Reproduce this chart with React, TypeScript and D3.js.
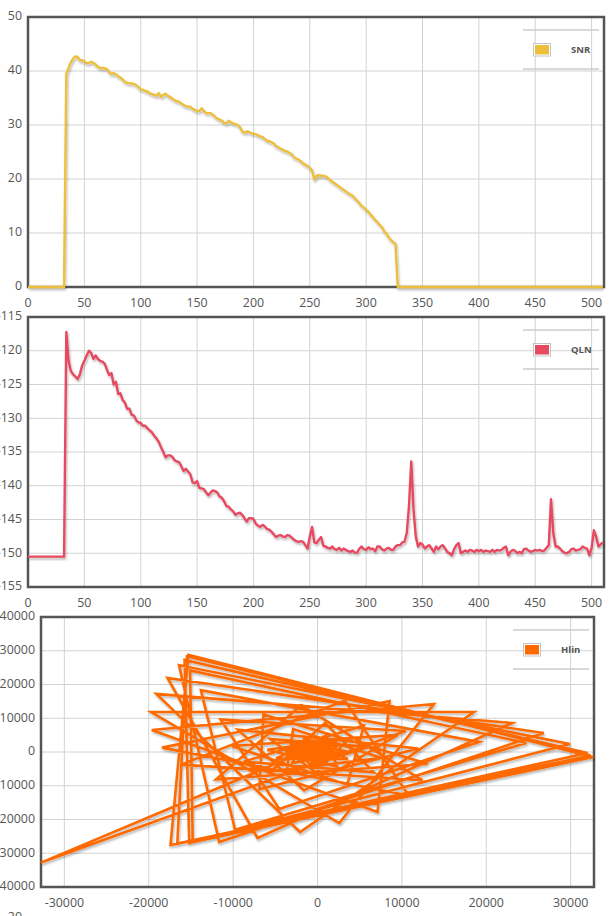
import React from "react";
import * as d3 from "d3";

// ---------- DATA ----------
// tone index = position * 2 (tones 0..510)
const TONE_STEP = 2;

const snrValues = [
  0, 0, 0, 0, 0, 0, 0, 0, 0, 0,
  0, 0, 0, 0, 0, 0, 0, 39.5, 40.6, 41.6,
  42.3, 42.7, 42.6, 42.0, 42.0, 41.8, 41.4, 41.5, 41.7, 41.5,
  41.2, 40.8, 40.5, 40.6, 40.5, 40.4, 39.8, 39.4, 39.6, 39.4,
  39.0, 38.8, 38.4, 38.0, 37.8, 37.7, 37.7, 37.6, 37.4, 37.0,
  36.6, 36.5, 36.3, 36.2, 35.9, 35.7, 35.6, 35.4, 35.9, 35.2,
  35.6, 35.8, 35.4, 35.2, 34.9, 34.6, 34.4, 34.3, 34.0, 33.7,
  33.5, 33.4, 33.4, 33.0, 32.8, 32.6, 32.6, 33.1, 32.6, 32.2,
  32.2, 32.2, 31.9, 31.5, 31.2, 31.0, 30.8, 30.4, 30.3, 30.8,
  30.5, 30.3, 30.2, 30.0, 29.6, 28.8, 28.6, 28.8, 28.7, 28.5,
  28.4, 28.3, 28.1, 27.9, 27.8, 27.4, 27.1, 27.0, 26.8, 26.6,
  26.1, 25.9, 25.6, 25.4, 25.2, 25.1, 24.8, 24.6, 24.0, 23.8,
  23.6, 23.3, 22.9, 22.7, 22.4, 22.1, 21.6, 19.9, 20.6, 20.7,
  20.6, 20.6, 20.5, 20.2, 19.8, 19.5, 19.2, 18.9, 18.6, 18.3,
  18.0, 17.7, 17.4, 17.1, 16.9, 16.4, 16.0, 15.5, 15.0, 14.7,
  14.3, 13.9, 13.4, 12.9, 12.4, 12.0, 11.5, 11.1, 10.3, 9.9,
  9.2, 8.7, 8.3, 8.0, 0, 0, 0, 0, 0, 0,
  0, 0, 0, 0, 0, 0, 0, 0, 0, 0,
  0, 0, 0, 0, 0, 0, 0, 0, 0, 0,
  0, 0, 0, 0, 0, 0, 0, 0, 0, 0,
  0, 0, 0, 0, 0, 0, 0, 0, 0, 0,
  0, 0, 0, 0, 0, 0, 0, 0, 0, 0,
  0, 0, 0, 0, 0, 0, 0, 0, 0, 0,
  0, 0, 0, 0, 0, 0, 0, 0, 0, 0,
  0, 0, 0, 0, 0, 0, 0, 0, 0, 0,
  0, 0, 0, 0, 0, 0,
];

const qlnValues = [
  -150.5, -150.5, -150.5, -150.5, -150.5, -150.5, -150.5, -150.5, -150.5, -150.5,
  -150.5, -150.5, -150.5, -150.5, -150.5, -150.5, -150.5, -117.2, -121.5, -123.0,
  -123.5, -123.8, -124.2, -123.5, -122.2, -121.5, -120.7, -120.0, -120.3, -121.2,
  -120.7, -121.2, -121.5, -121.6, -121.9, -122.8, -123.6, -123.3, -125.0, -124.6,
  -126.4, -126.3, -127.3, -127.7, -128.6, -128.6, -129.5, -129.6, -130.3, -130.6,
  -130.7, -131.1, -131.1, -131.5, -131.8, -132.1, -132.6, -133.0, -133.5, -134.3,
  -135.0, -135.8, -135.5, -135.5, -135.7, -136.2, -136.4, -136.5, -137.1, -137.8,
  -137.5, -137.9, -138.3, -139.5, -139.6, -139.3, -140.3, -140.4, -140.5, -141.0,
  -141.4, -141.0, -140.7, -140.8, -141.0, -141.6, -141.8, -142.3, -143.0, -143.1,
  -143.5, -143.8, -144.3, -144.1, -144.0, -144.3, -144.8, -145.3, -144.8, -144.8,
  -144.9, -145.6, -145.9, -146.1, -145.8, -146.0, -146.4, -146.5, -146.8, -147.2,
  -147.6, -147.4, -147.3, -147.5, -147.6, -147.3, -147.4, -147.7, -148.0, -148.2,
  -148.3, -148.2, -148.3, -148.8, -149.3, -147.5, -146.1, -148.4, -148.5, -148.0,
  -147.6, -148.9, -149.0, -149.2, -149.3, -149.0, -149.4, -149.5, -149.2, -149.6,
  -149.3, -149.5, -149.7, -149.8, -149.6, -149.9, -149.9, -149.3, -149.0, -149.4,
  -149.5, -149.1, -149.4, -149.3, -149.7, -149.0, -149.0, -149.4, -149.6, -149.3,
  -149.2, -149.5, -149.5, -149.0, -148.8, -148.8, -148.4, -148.3, -147.0, -143.0,
  -136.4, -143.5, -147.5, -149.0, -148.5, -148.7, -149.3, -149.0, -148.8, -149.3,
  -149.8, -149.0, -149.4, -149.0, -148.8, -149.3, -149.8, -150.0, -150.3, -149.4,
  -148.8, -148.5, -150.0, -149.8, -149.6, -149.8, -149.5, -149.6, -149.8, -149.5,
  -149.7, -149.5, -149.8, -149.6, -149.7, -149.8, -149.5, -149.8, -149.5, -149.6,
  -149.5, -149.2, -149.0, -150.3, -149.8, -149.5, -149.6, -150.0, -149.8, -150.0,
  -149.4, -149.3, -149.6, -149.8, -149.7, -149.5, -149.6, -149.5, -149.7, -149.6,
  -149.2, -148.8, -142.0, -147.0, -149.0, -149.0, -149.3, -149.7, -149.9, -150.0,
  -149.8, -149.4, -149.3, -149.6, -149.5, -149.4, -149.0, -149.2, -149.3, -150.3,
  -149.2, -146.6, -147.5, -149.0, -148.7, -148.4,
];

const hlinRe = [
  -32768, 10440, -11490, -4530, 19170, -13820, -9770, 24750, -15100, -14790,
  32670, -15300, -17420, 32380, -15460, -16620, 32000, -15750, -15200, 29910,
  -16410, -11650, 26810, -17780, -7110, 23060, -19100, -2070, 18540, -19710,
  2580, 13790, -19640, 7110, 8540, -18430, 10800, 3240, -16170, 12440,
  -1950, -12020, 13040, -6400, -6890, 11950, -9420, -1600, 9540, -10140,
  3520, 5510, -8750, 6690, 900, -5560, 7600, -2890,
  -3680, 6030, -5610, -180, 3740, -5960, 2330, 960, -4920, 3600,
  -1490, -3030, 3490, -3090, -940, 2440, -3750, 790, 950, -3520,
  1900, -650, -2550, 2180, -1920, -1230, 1710, -2550, -5, 760,
  -2500, 800, -280, -1930, 1030, -1090, -1140, 770, -1460, -440,
  230, -1390, -60,
  1690, -3810, 1120, 840, -3530, 1620, 10, -3070, 1890, -730,
  -2490, 1930, -1330, -1850, 1780, -1760, -1230, 1470, -2000, -660,
  1060, -2060, -215, 600, -1960, 90, 160, -1735, 245, -220,
  300, -32768,
];

const hlinIm = [
  -32768, 6220, 9640, -16900, 2970, 18340, -23020, 2690, 24170, -26680,
  -1480, 28790, -27550, -1020, 28360, -27210, -280, 27280, -26960, 2350,
  25760, -26660, 5650, 21950, -25470, 8580, 17200, -23710, 11860, 11850,
  -21040, 14220, 6530, -17780, 15100, 1290, -12870, 15260, -3730, -8390,
  13860, -8110, -3490, 11090, -11020, 1050, 6600, -11390, 5070, 1790,
  -9680, 7860, -2840, -6020, 8550, -5750, -1750, 6810,
  -6240, 1510, 3850, -6090, 3960, 670, -4360, 4780, -1880, -2090,
  4290, -3350, 210, 2780, -3570, 1910, 990, -3040, 2850, -700,
  -1810, 2900, -1910, -330, 2180, -2390, 940, 1040, -2140, 1680,
  -100, -1390, 1790, -930, -470, 1380, -1250, 290, 720, -1100,
  680, 110, -670,
  2600, 290, -2810, 2860, -540, -2120, 2880, -1200, -1380, 2670,
  -1670, -650, 2290, -1930, 0, 1800, -1990, 530, 1260, -1870,
  900, 730, -1620, 1100, 260, -1270, 1140, -110, -890, 1040,
  2070, -32768,
];

const toneTicks = [0, 50, 100, 150, 200, 250, 300, 350, 400, 450, 500];
const snrTicks = [0, 10, 20, 30, 40, 50];
const qlnTicks = [-115, -120, -125, -130, -135, -140, -145, -150, -155];
const hlinXTicks = [-30000, -20000, -10000, 0, 10000, 20000, 30000];
const hlinYTicks = [40000, 30000, 20000, 10000, 0, -10000, -20000, -30000, -40000];

const SNR_COLOR = "#ecbf3c";
const QLN_COLOR = "#e64a60";
const HLIN_COLOR = "#ff6a00";

const FONT = "'Open Sans', 'DejaVu Sans', sans-serif";
const GRID = "#d2d2d2";
const BORDER = "#555";
const TEXT = "#555";

type Frame = { x0: number; x1: number; y0: number; y1: number };

function Grid({ f, xs, ys }: { f: Frame; xs: number[]; ys: number[] }) {
  return (
    <g>
      {xs.map((x, i) => (
        <line key={"gx" + i} x1={x} x2={x} y1={f.y0} y2={f.y1} stroke={GRID} strokeWidth={1} />
      ))}
      {ys.map((y, i) => (
        <line key={"gy" + i} x1={f.x0} x2={f.x1} y1={y} y2={y} stroke={GRID} strokeWidth={1} />
      ))}
    </g>
  );
}

function Legend({ f, label, color }: { f: Frame; label: string; color: string }) {
  const R = f.x1;
  const T = f.y0;
  return (
    <g>
      <line x1={R - 81} x2={R - 5} y1={T + 13} y2={T + 13} stroke="#cccccc" strokeWidth={1.5} />
      <line x1={R - 81} x2={R - 5} y1={T + 52} y2={T + 52} stroke="#cccccc" strokeWidth={1.5} />
      <rect x={R - 70.5} y={T + 26.5} width={17} height={12.5} fill="#fff" stroke="#c4c4c4" strokeWidth={1} />
      <rect x={R - 69} y={T + 28} width={14} height={9.5} fill={color} />
      <text x={R - 33} y={T + 33} fontFamily={FONT} fontSize={9.5} fontWeight={700} fill={TEXT} dominantBaseline="middle">
        {label}
      </text>
    </g>
  );
}

function XLabels({ f, ticks, x }: { f: Frame; ticks: number[]; x: (v: number) => number }) {
  return (
    <g>
      {ticks.map((t) => (
        <text key={t} x={x(t)} y={f.y1 + 17} textAnchor="middle" dominantBaseline="middle" fontFamily={FONT} fontSize={12.4} fill={TEXT}>
          {String(t)}
        </text>
      ))}
    </g>
  );
}

function YLabels({ f, ticks, y }: { f: Frame; ticks: number[]; y: (v: number) => number }) {
  return (
    <g>
      {ticks.map((t) => (
        <text key={t} x={f.x0 - 6} y={y(t)} textAnchor="end" dominantBaseline="middle" fontFamily={FONT} fontSize={12.4} fill={TEXT}>
          {String(t)}
        </text>
      ))}
    </g>
  );
}

function TonePanel({ f, values, yDomain, yTicks, color, label }: {
  f: Frame; values: number[]; yDomain: [number, number]; yTicks: number[]; color: string; label: string;
}) {
  const x = d3.scaleLinear().domain([0, 511]).range([f.x0, f.x1]);
  const y = d3.scaleLinear().domain(yDomain).range([f.y1, f.y0]);
  const line = d3
    .line<number>()
    .x((_, i) => x(i * TONE_STEP))
    .y((d) => y(d));
  const path = line(values) || "";
  return (
    <g>
      <Grid f={f} xs={toneTicks.filter((t) => t > 0).map(x)} ys={yTicks.map(y)} />
      <rect x={f.x0} y={f.y0} width={f.x1 - f.x0} height={f.y1 - f.y0} fill="none" stroke={BORDER} strokeWidth={2.5} />
      <path d={path} fill="none" stroke={color} strokeWidth={2.4} strokeLinejoin="round" filter="url(#shadow)" />
      <Legend f={f} label={label} color={color} />
      <XLabels f={f} ticks={toneTicks} x={x} />
      <YLabels f={f} ticks={yTicks} y={y} />
    </g>
  );
}

function HlinPanel({ f }: { f: Frame }) {
  const x = d3.scaleLinear().domain([-32768, 32768]).range([f.x0, f.x1]);
  const y = d3.scaleLinear().domain([-40000, 40000]).range([f.y1, f.y0]);
  const pts = d3.zip(hlinRe, hlinIm) as [number, number][];
  const line = d3
    .line<[number, number]>()
    .x((d) => x(d[0]))
    .y((d) => y(d[1]));
  const path = line(pts) || "";
  return (
    <g>
      <Grid f={f} xs={hlinXTicks.map(x)} ys={hlinYTicks.map(y)} />
      <rect x={f.x0} y={f.y0} width={f.x1 - f.x0} height={f.y1 - f.y0} fill="none" stroke={BORDER} strokeWidth={2.5} />
      <path d={path} fill="none" stroke={HLIN_COLOR} strokeWidth={2.6} strokeLinejoin="miter" strokeMiterlimit={4} filter="url(#shadow)" />
      <Legend f={f} label="Hlin" color={HLIN_COLOR} />
      <XLabels f={f} ticks={hlinXTicks} x={x} />
      <YLabels f={f} ticks={hlinYTicks} y={y} />
    </g>
  );
}

export default function App() {
  const f1: Frame = { x0: 28, x1: 604, y0: 17, y1: 287 };
  const f2: Frame = { x0: 28, x1: 604, y0: 317, y1: 587 };
  const f3: Frame = { x0: 41, x1: 594, y0: 617, y1: 887 };
  return (
    <svg
      width={612}
      height={916}
      viewBox="0 0 612 916"
      style={{ position: "absolute", left: 0, top: 0, background: "#fff", display: "block" }}
    >
      <defs>
        <filter id="shadow" x="-10%" y="-10%" width="120%" height="130%">
          <feDropShadow dx={1} dy={2} stdDeviation={1} floodColor="#000" floodOpacity={0.28} />
        </filter>
      </defs>
      <rect x={0} y={0} width={612} height={916} fill="#fff" />
      <TonePanel f={f1} values={snrValues} yDomain={[0, 50]} yTicks={snrTicks} color={SNR_COLOR} label="SNR" />
      <TonePanel f={f2} values={qlnValues} yDomain={[-155, -115]} yTicks={qlnTicks} color={QLN_COLOR} label="QLN" />
      <HlinPanel f={f3} />
      <text x={22} y={918} textAnchor="end" dominantBaseline="middle" fontFamily={FONT} fontSize={12.4} fill={TEXT}>
        20
      </text>
    </svg>
  );
}
